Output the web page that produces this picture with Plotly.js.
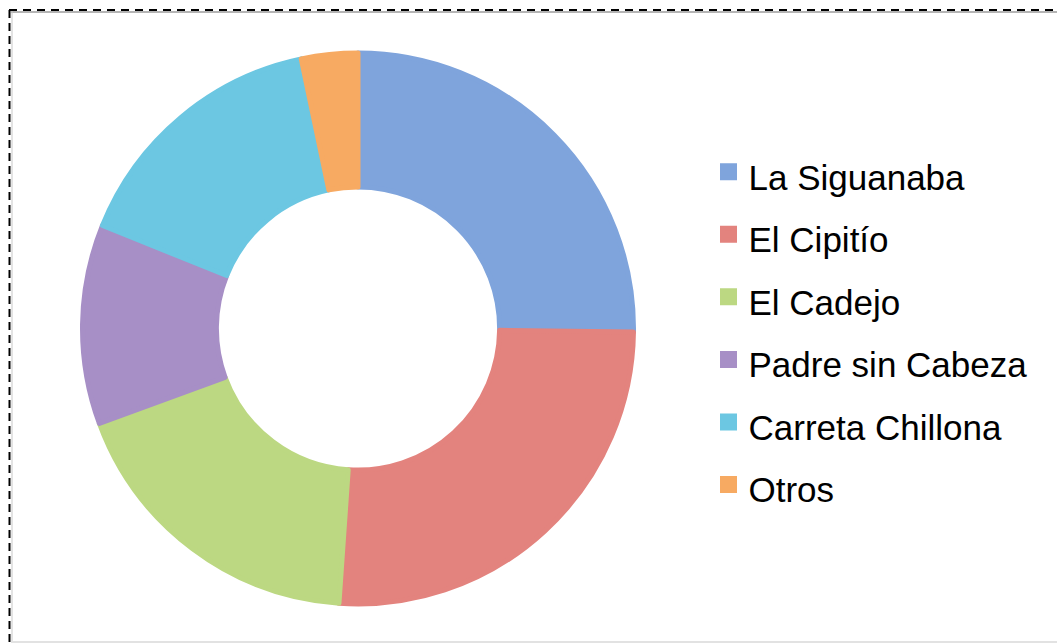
<!DOCTYPE html>
<html>
<head>
<meta charset="utf-8">
<script src="https://cdn.plot.ly/plotly-3.0.1.min.js"></script>
<style>
  html, body { margin: 0; padding: 0; background: #ffffff; }
  #chart { width: 1057px; height: 643px; }
</style>
</head>
<body>
<div id="chart"></div>
<script>
// Data (share of each legend, %)
const categories = ["La Siguanaba", "El Cipitío", "El Cadejo", "Padre sin Cabeza", "Carreta Chillona", "Otros"];
const values = [25.2, 25.9, 18.3, 11.7, 15.6, 3.3];
const sliceColors = ["#7fa4dc", "#e3837e", "#bcd882", "#a78fc6", "#6cc7e2", "#f7aa62"];

const W = 1057, H = 643;
const px = x => x / W;
const py = y => 1 - y / H;

const labelText = categories.map(c => '<span style="font-size:35px">' + c + '</span>');

const trace = {
  type: "pie",
  labels: labelText,
  values: values,
  hole: 0.514,
  sort: false,
  direction: "clockwise",
  rotation: 0,
  textinfo: "none",
  hoverinfo: "label+percent",
  marker: {
    colors: sliceColors,
    line: { color: sliceColors, width: 5 }
  },
  domain: { x: [px(82.5), px(633.5)], y: [py(604), py(53)] }
};

const layout = {
  width: W,
  height: H,
  margin: { l: 0, r: 0, t: 0, b: 0 },
  paper_bgcolor: "#ffffff",
  plot_bgcolor: "#ffffff",
  font: { family: "Liberation Sans, Arial, Helvetica, sans-serif", color: "#000000" },
  showlegend: true,
  legend: {
    x: px(708.5),
    xanchor: "left",
    y: py(328.5),
    yanchor: "middle",
    font: { size: 45.8, color: "#000000", family: "Liberation Sans, Arial, Helvetica, sans-serif" },
    bgcolor: "rgba(0,0,0,0)",
    borderwidth: 0,
    traceorder: "normal"
  },
  shapes: [
    { type: "line", xref: "paper", yref: "paper", x0: px(11), x1: px(1057), y0: py(12), y1: py(12),
      line: { color: "#b4b4b4", width: 2 } },
    { type: "line", xref: "paper", yref: "paper", x0: px(12), x1: px(12), y0: py(11), y1: py(643),
      line: { color: "#c8c8c8", width: 1 } },
    { type: "line", xref: "paper", yref: "paper", x0: px(9), x1: px(1057), y0: py(10), y1: py(10),
      line: { color: "#000000", width: 2, dash: "8px,6px" } },
    { type: "line", xref: "paper", yref: "paper", x0: px(9.5), x1: px(9.5), y0: py(10), y1: py(643),
      line: { color: "#000000", width: 2, dash: "8px,5px" } },
    { type: "line", xref: "paper", yref: "paper", x0: px(12), x1: px(1057), y0: py(642), y1: py(642),
      line: { color: "#e2e2e2", width: 2 } }
  ]
};

Plotly.newPlot("chart", [trace], layout, { displayModeBar: false, staticPlot: true });
</script>
</body>
</html>
